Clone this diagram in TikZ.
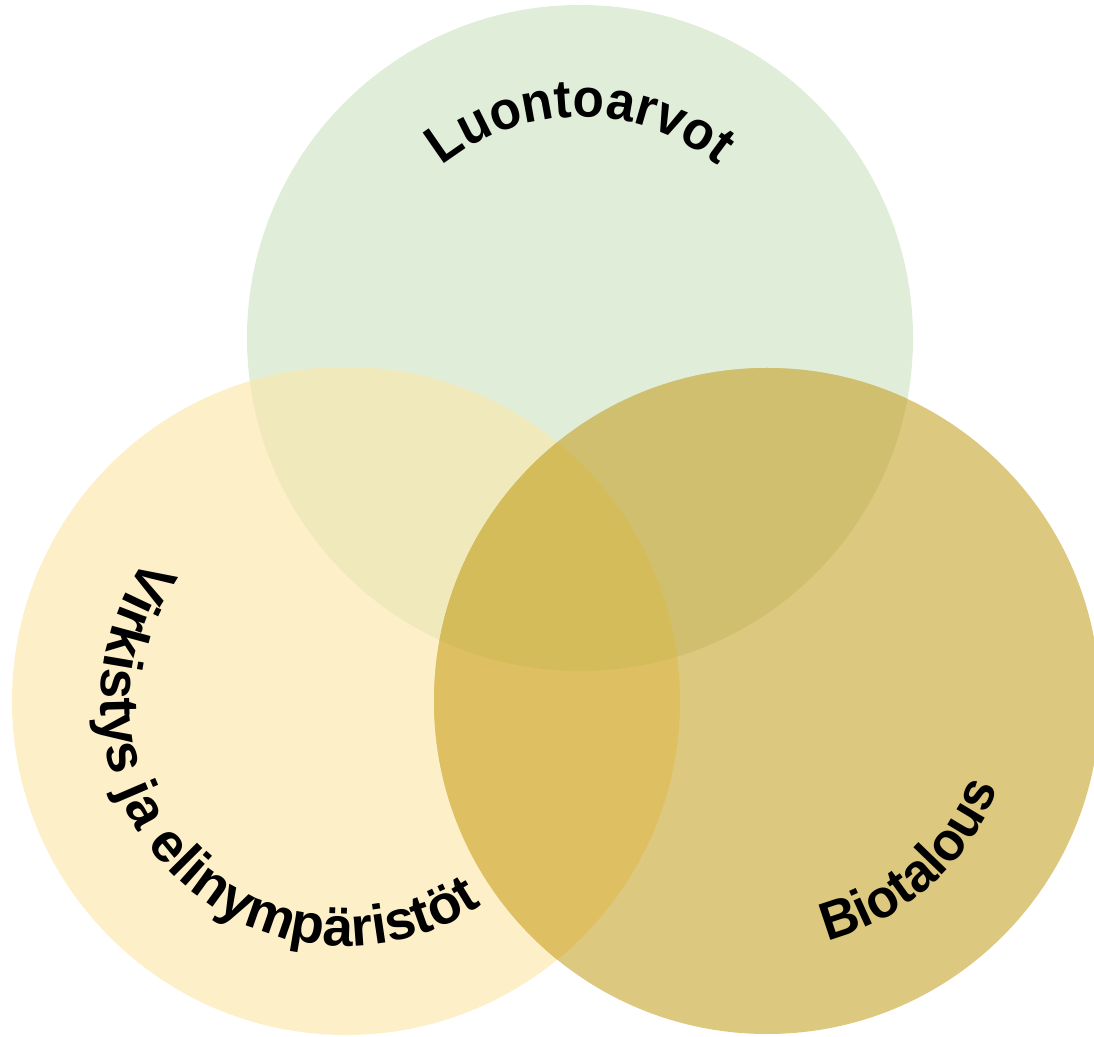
\documentclass[tikz,border=0pt]{standalone}
\usepackage{fontspec}
\setmainfont{Liberation Sans}
\newfontfamily\fA{Liberation Sans}[FakeStretch=0.95]
\newfontfamily\fB{Liberation Sans}[FakeStretch=0.97]
\usetikzlibrary{decorations.text}
\definecolor{cG}{HTML}{E0EDD8}
\definecolor{cL}{HTML}{FDF0C9}
\definecolor{cR}{HTML}{DDC87F}
\definecolor{cGL}{HTML}{F0E9BC}
\definecolor{cGR}{HTML}{CFBF6E}
\definecolor{cLR}{HTML}{DEC062}
\definecolor{cGLR}{HTML}{D5BC5A}
\begin{document}
\begin{tikzpicture}[x=1pt,y=1pt]
\useasboundingbox (0,0) rectangle (1094,1036);
\coordinate (cg) at (580,698);
\coordinate (cl) at (346,335);
\coordinate (cr) at (767,335);
\fill[cG] (cg) circle[radius=333];
\fill[cL] (cl) circle[radius=334];
\fill[cR] (cr) circle[radius=333];
\begin{scope}
\clip (cg) circle[radius=333];
\fill[cGL] (cl) circle[radius=334];
\fill[cGR] (cr) circle[radius=333];
\end{scope}
\begin{scope}
\clip (cl) circle[radius=334];
\fill[cLR] (cr) circle[radius=333];
\clip (cg) circle[radius=333];
\fill[cGLR] (cr) circle[radius=333];
\end{scope}
\path[decorate, decoration={text along path, text align=center,
  text={|\fA\fontsize{54}{64}\selectfont\bfseries|Luontoarvot}}]
  ([shift={(180:221)}]cg) arc[start angle=180, end angle=0, radius=221];
\path[decorate, decoration={text along path, text align=center,
  text={|\fontsize{55}{65}\selectfont\bfseries|Virkistys ja elinympäristöt}}]
  ([shift={(104:245)}]cl) arc[start angle=104, end angle=344, radius=245];
\path[decorate, decoration={text along path, text align=center,
  text={|\fB\fontsize{54}{64}\selectfont\bfseries|Biotalous}}]
  ([shift={(-108.3:247)}]cr) arc[start angle=-108.3, end angle=11.7, radius=247];
\end{tikzpicture}
\end{document}
